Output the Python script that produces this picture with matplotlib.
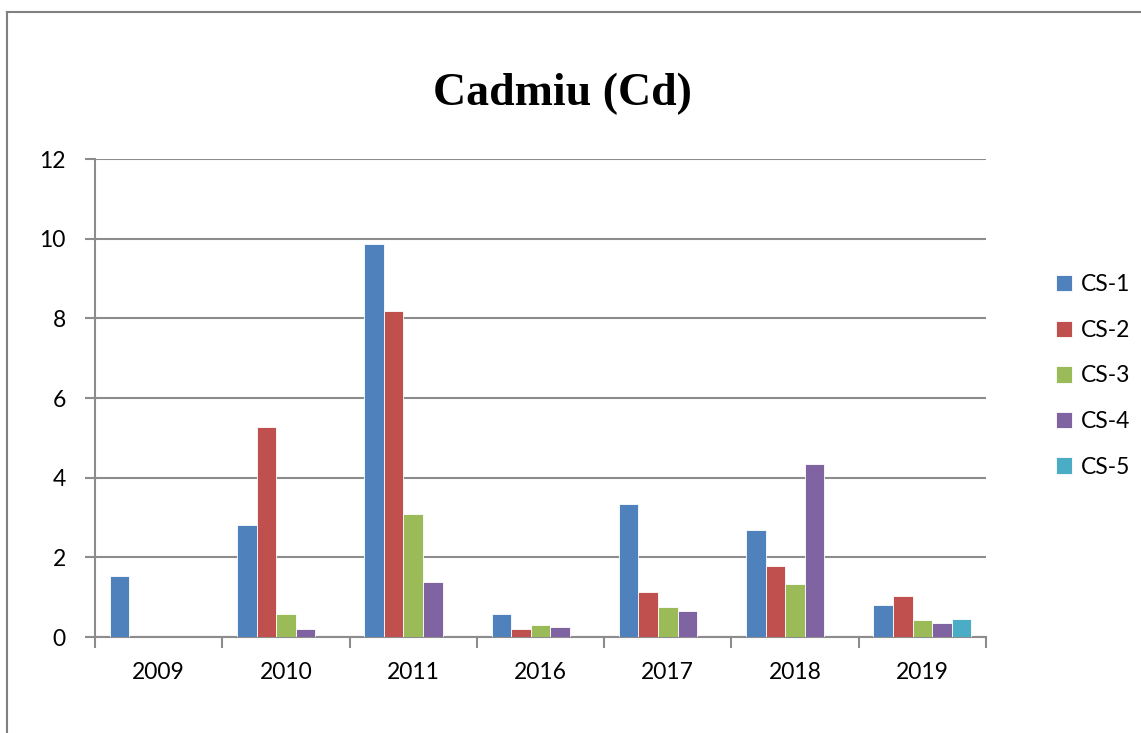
import numpy as np
import matplotlib
matplotlib.use("Agg")
import matplotlib.pyplot as plt
from matplotlib.lines import Line2D

# values (None = no bar)
years = ["2009", "2010", "2011", "2016", "2017", "2018", "2019"]
series = ["CS-1", "CS-2", "CS-3", "CS-4", "CS-5"]
cs1 = [1.52, 2.82, 9.87, 0.58, 3.34, 2.68, 0.80]
cs2 = [None, 5.28, 8.18, 0.21, 1.12, 1.79, 1.04]
cs3 = [None, 0.57, 3.08, 0.29, 0.76, 1.34, 0.43]
cs4 = [None, 0.20, 1.39, 0.26, 0.66, 4.34, 0.35]
cs5 = [None, None, None, None, None, None, 0.46]
colors = ["#4F81BD", "#C0504D", "#9BBB59", "#8064A2", "#4BACC6"]

plt.rcParams['font.family'] = ['Lato', 'DejaVu Sans']

fig = plt.figure(figsize=(11.41, 7.33), dpi=100)
ax = fig.add_axes([95/1141, 1 - 637/733, (986 - 95)/1141, (637 - 159)/733])

x = np.arange(len(years))
w = 1 / 6.5
for i, (name, vals) in enumerate(zip(series, [cs1, cs2, cs3, cs4, cs5])):
    h = np.array([np.nan if v is None else v for v in vals], dtype=float)
    ax.bar(x + (i - 2) * w, h, width=w, color=colors[i], label=name,
           edgecolor="white", linewidth=0.6, zorder=3)

grid_c = "#8c8c8c"
ax.set_xlim(-0.5, len(years) - 0.5)
ax.set_ylim(0, 12)
ax.set_yticks(range(0, 13, 2))
ax.yaxis.grid(True, color=grid_c, linewidth=1.5, zorder=0)
ax.set_xticks(x)
ax.set_xticklabels(years)
ax.set_xticks(np.arange(-0.5, len(years)), minor=True)
ax.tick_params(axis="x", which="major", length=0, pad=18, labelsize=16.5)
ax.tick_params(axis="x", which="minor", length=8, width=1.5, color=grid_c, direction="out")
ax.tick_params(axis="y", length=7, width=1.5, color=grid_c, pad=14, labelsize=16.5)
for s in ["top", "right"]:
    ax.spines[s].set_visible(False)
for s in ["left", "bottom"]:
    ax.spines[s].set_color(grid_c)
    ax.spines[s].set_linewidth(1.5)

fig.text(562/1141, 1 - 94/733, "Cadmiu (Cd)", ha="center", va="center",
         fontsize=33, fontweight="bold", family="Liberation Serif")

ax.legend(loc="center left", bbox_to_anchor=(1035/1141, 1 - 376/733),
          bbox_transform=fig.transFigure, frameon=False, fontsize=16.5,
          handlelength=0.7, handleheight=0.7, handletextpad=0.4,
          labelspacing=1.07)

# outer chart border (only left and top edges visible in the crop)
fig.add_artist(Line2D([7/1141, 7/1141], [0, 1 - 12/733], color="#808080", lw=1.5))
fig.add_artist(Line2D([7/1141, 1], [1 - 12/733, 1 - 12/733], color="#808080", lw=1.5))

fig.savefig("out.png", dpi=100)
